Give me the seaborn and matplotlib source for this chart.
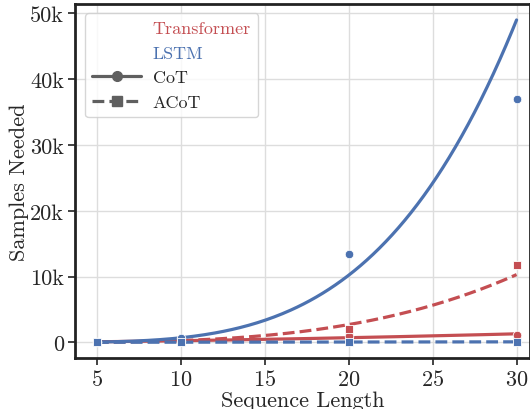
import numpy as np
import pandas as pd
import seaborn as sns
import matplotlib.pyplot as plt
from matplotlib.lines import Line2D
from matplotlib.ticker import FuncFormatter

# measured points
seq_len = [5, 10, 20, 30]
lstm_cot = [40, 650, 13500, 37000]
lstm_acot = [20, 40, 60, 80]
trans_cot = [30, 200, 900, 1100]
trans_acot = [20, 150, 2100, 11800]

# fitted power-law curves y = y30 * (x/30)**k
fit_y30 = {"lstm_cot": 49000, "lstm_acot": 80, "trans_cot": 1300, "trans_acot": 10300}
fit_k = {"lstm_cot": 3.87, "lstm_acot": 1.0, "trans_cot": 1.5, "trans_acot": 3.3}

red = "#C44E52"
blue = "#4C72B0"

sns.set_theme(style="whitegrid")
plt.rcParams["font.family"] = ["cmr10", "DejaVu Serif"]
plt.rcParams["axes.formatter.use_mathtext"] = True
plt.rcParams["mathtext.fontset"] = "cm"

fig = plt.figure(figsize=(5.3, 4.1), dpi=100)
ax = fig.add_axes([0.1415, 0.124, 0.8585, 0.865])

xs = np.linspace(5, 30, 200)
series = [
    ("trans_cot", trans_cot, red, "-", "o"),
    ("trans_acot", trans_acot, red, "--", "s"),
    ("lstm_cot", lstm_cot, blue, "-", "o"),
    ("lstm_acot", lstm_acot, blue, "--", "s"),
]
for key, pts, col, ls, mk in series:
    curve = pd.DataFrame({"x": xs, "y": fit_y30[key] * (xs / 30) ** fit_k[key]})
    sns.lineplot(data=curve, x="x", y="y", ax=ax, color=col, linestyle=ls,
                 linewidth=2.3, zorder=3)
for key, pts, col, ls, mk in series:
    df = pd.DataFrame({"x": seq_len, "y": pts})
    sns.scatterplot(data=df, x="x", y="y", ax=ax, color=col, marker=mk,
                    s=38, edgecolor="white", linewidth=0.6, zorder=4)

ax.set_xlim(3.7, 30.8)
ax.set_ylim(-2400, 51500)
ax.set_xticks([5, 10, 15, 20, 25, 30])
ax.set_yticks([0, 10000, 20000, 30000, 40000, 50000])
ax.yaxis.set_major_formatter(FuncFormatter(lambda v, p: "0" if v == 0 else f"{int(v / 1000)}k"))
ax.set_xlabel("Sequence Length", fontsize=16, labelpad=1)
ax.set_ylabel("Samples Needed", fontsize=16, labelpad=0.5)
ax.tick_params(axis="both", labelsize=16, direction="out", length=5, width=1.2,
               bottom=True, left=True, color="#222222", pad=3)
ax.grid(True, color="#dddddd", linewidth=1.0)
for s in ["left", "bottom", "top", "right"]:
    ax.spines[s].set_color("#222222")
    ax.spines[s].set_linewidth(2.0)

gray = "#5f5f5f"
handles = [
    Line2D([], [], color="none", label="Transformer"),
    Line2D([], [], color="none", label="LSTM"),
    Line2D([], [], color=gray, linestyle="-", marker="o", markersize=7, linewidth=2.3, label="CoT"),
    Line2D([], [], color=gray, linestyle="--", marker="s", markersize=7, linewidth=2.3, label="ACoT"),
]
leg = ax.legend(handles=handles, loc="upper left", bbox_to_anchor=(0.022, 0.973),
                fontsize=13, frameon=True, handlelength=2.7, borderpad=0.4,
                labelspacing=0.5, handletextpad=0.65, borderaxespad=0)
leg.get_frame().set_edgecolor("#cccccc")
leg.get_texts()[0].set_color(red)
leg.get_texts()[1].set_color(blue)

fig.savefig("out.png", dpi=100)
